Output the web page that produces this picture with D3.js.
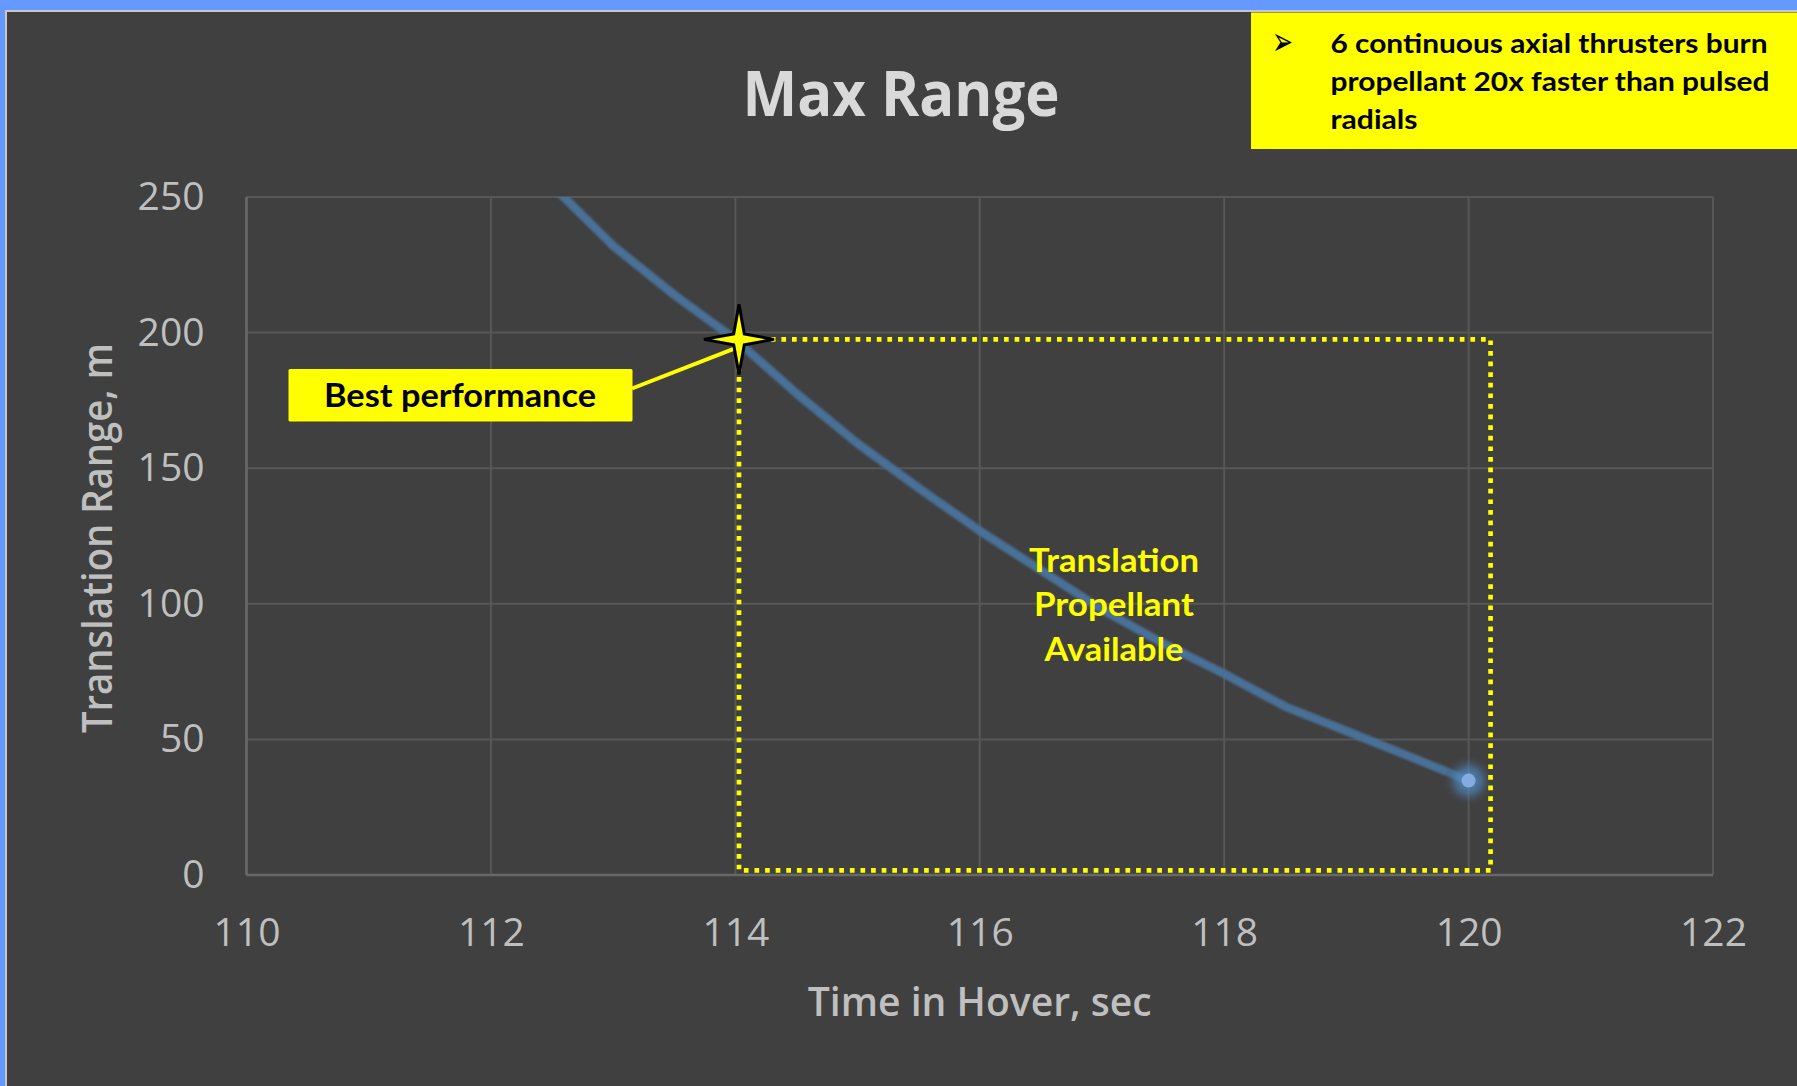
<!DOCTYPE html>
<html><head><meta charset="utf-8">
<script src="https://cdn.jsdelivr.net/npm/d3@7"></script>
<style>html,body{margin:0;padding:0;background:#404040;overflow:hidden}</style>
</head><body><svg id="c" width="1797" height="1086"></svg>
<script>
// ---- data ----
const timeSec = [112.5, 113.0, 113.5, 114.0, 114.5, 115.0, 115.5, 116.0, 116.5, 117.0, 117.5, 118.0, 118.5, 119.0, 119.5, 120.0];
const rangeM  = [254.3, 232.0, 213.9, 197.5, 177.6, 159.1, 142.7, 126.9, 112.4,  97.9,  85.4,  74.2,  62.1,  53.1,  44.0,  34.8];
const xTickValues = [110, 112, 114, 116, 118, 120, 122];
const yTickValues = [0, 50, 100, 150, 200, 250];
const chartTitle = "Max Range";
const xTitle = "Time in Hover, sec";
const yTitle = "Translation Range, m";
const noteLines = ["6 continuous axial thrusters burn", "propellant 20x faster than pulsed", "radials"];
const bestLabel = "Best performance";
const availLines = ["Translation", "Propellant", "Available"];
const bestTime = 114.03, bestRange = 197.5;
const boxTime = 120.18, boxRange = 1.7;

// ---- drawing ----
const svg = d3.select("#c");
const W = 1797, H = 1086;
const x = d3.scaleLinear().domain([110, 122]).range([246.5, 1713]);
const y = d3.scaleLinear().domain([0, 250]).range([875, 197]);

const defs = svg.append("defs");
defs.append("clipPath").attr("id", "plotclip").append("rect")
  .attr("x", x(110)).attr("y", y(250)).attr("width", x(122) - x(110)).attr("height", y(0) - y(250));
const soft = defs.append("filter").attr("id", "soft").attr("x", "-5%").attr("y", "-5%").attr("width", "110%").attr("height", "110%");
soft.append("feGaussianBlur").attr("stdDeviation", 0.9);
const glow = defs.append("radialGradient").attr("id", "glow");
glow.append("stop").attr("offset", "0%").attr("stop-color", "#5b9bd5").attr("stop-opacity", 0.9);
glow.append("stop").attr("offset", "50%").attr("stop-color", "#4f86bf").attr("stop-opacity", 0.55);
glow.append("stop").attr("offset", "100%").attr("stop-color", "#404040").attr("stop-opacity", 0);

function fit(sel, w) { sel.attr("textLength", w).attr("lengthAdjust", "spacingAndGlyphs"); return sel; }

// frame
svg.append("rect").attr("x", 0).attr("y", 0).attr("width", W).attr("height", H).attr("fill", "#6699ff");
svg.append("rect").attr("x", 5).attr("y", 10).attr("width", W).attr("height", H).attr("fill", "#c8c8c8");
svg.append("rect").attr("x", 7).attr("y", 12).attr("width", W).attr("height", H).attr("fill", "#404040");

// gridlines
const grid = svg.append("g");
grid.selectAll("line.v").data(xTickValues).join("line")
  .attr("x1", d => x(d)).attr("x2", d => x(d)).attr("y1", y(0)).attr("y2", y(250))
  .attr("stroke", "#575757").attr("stroke-width", 2);
grid.selectAll("line.h").data(yTickValues).join("line")
  .attr("x1", x(110)).attr("x2", x(122)).attr("y1", d => y(d)).attr("y2", d => y(d))
  .attr("stroke", "#575757").attr("stroke-width", 2);
// axis lines
svg.append("line").attr("x1", x(110)).attr("x2", x(110)).attr("y1", y(250)).attr("y2", y(0)).attr("stroke", "#686868").attr("stroke-width", 2.5);
svg.append("line").attr("x1", x(110)).attr("x2", x(122)).attr("y1", y(0)).attr("y2", y(0)).attr("stroke", "#686868").attr("stroke-width", 2.5);

// axes
const yAxis = svg.append("g").attr("transform", `translate(${x(110)},0)`)
  .call(d3.axisLeft(y).tickValues(yTickValues).tickSize(0).tickPadding(42).tickFormat(d3.format("d")));
const xAxis = svg.append("g").attr("transform", `translate(0,${y(0)})`)
  .call(d3.axisBottom(x).tickValues(xTickValues).tickSize(0).tickPadding(43).tickFormat(d3.format("d")));
[yAxis, xAxis].forEach(a => {
  a.select(".domain").remove();
  a.selectAll("text").attr("fill", "#bfbfbf").style("font-family", "'Open Sans', sans-serif").style("font-size", "39px");
});

// title
fit(svg.append("text").attr("x", 901).attr("y", 116).attr("text-anchor", "middle")
  .attr("fill", "#d9d9d9").style("font-family", "'Open Sans', sans-serif").style("font-weight", 700).style("font-size", "62px")
  .text(chartTitle), 317);

// axis titles
fit(svg.append("text").attr("x", (x(110) + x(122)) / 2).attr("y", 1016).attr("text-anchor", "middle")
  .attr("fill", "#bfbfbf").style("font-family", "'Open Sans', sans-serif").style("font-weight", 600).style("font-size", "40px")
  .text(xTitle), 344);
fit(svg.append("text").attr("transform", "translate(112,538) rotate(-90)").attr("text-anchor", "middle")
  .attr("fill", "#bfbfbf").style("font-family", "'Open Sans', sans-serif").style("font-weight", 600).style("font-size", "41px")
  .text(yTitle), 390);

// series
const line = d3.line().x((d, i) => x(timeSec[i])).y(d => y(d));
svg.append("g").attr("clip-path", "url(#plotclip)").append("path")
  .attr("d", line(rangeM)).attr("fill", "none").attr("stroke", "#4a6f97").attr("stroke-width", 8.5)
  .attr("stroke-linejoin", "round").attr("stroke-linecap", "round").attr("filter", "url(#soft)");
const lastI = timeSec.length - 1;
svg.append("circle").attr("cx", x(timeSec[lastI])).attr("cy", y(rangeM[lastI])).attr("r", 26).attr("fill", "url(#glow)");
svg.append("circle").attr("cx", x(timeSec[lastI])).attr("cy", y(rangeM[lastI])).attr("r", 7).attr("fill", "#83ade0");

// dotted region
svg.append("rect").attr("x", x(bestTime)).attr("y", y(bestRange))
  .attr("width", x(boxTime) - x(bestTime)).attr("height", y(boxRange) - y(bestRange))
  .attr("fill", "none").attr("stroke", "#ffff00").attr("stroke-width", 4.7).attr("stroke-dasharray", "4.7,5.9");

// Translation Propellant Available
const availW = [170, 160, 139];
availLines.forEach((t, i) => {
  fit(svg.append("text").attr("x", 1114).attr("y", 571.5 + i * 44.5).attr("text-anchor", "middle")
    .attr("fill", "#ffff00").style("font-family", "Lato, sans-serif").style("font-weight", 700).style("font-size", "32px")
    .text(t), availW[i]);
});

// Best performance callout
svg.append("line").attr("x1", 632).attr("y1", 388.5).attr("x2", x(bestTime) - 4).attr("y2", y(bestRange) + 9)
  .attr("stroke", "#ffff00").attr("stroke-width", 4);
svg.append("rect").attr("x", 288.5).attr("y", 369).attr("width", 344).attr("height", 52.5).attr("rx", 1.5).attr("fill", "#ffff00");
fit(svg.append("text").attr("x", 460).attr("y", 406.5).attr("text-anchor", "middle")
  .attr("fill", "#000").style("font-family", "Lato, sans-serif").style("font-weight", 700).style("font-size", "33px")
  .text(bestLabel), 272);

// star
const cx = x(bestTime), cy = y(bestRange);
const starPts = d3.range(8).map(k => {
  const a = k * Math.PI / 4 - Math.PI / 2, r = k % 2 === 0 ? 35 : 7.5;
  return [cx + r * Math.cos(a), cy + r * Math.sin(a)];
});
svg.append("path").attr("d", d3.line()(starPts) + "Z").attr("fill", "#ffff00").attr("stroke", "#000")
  .attr("stroke-width", 3).attr("stroke-linejoin", "miter");

// note box top right
svg.append("rect").attr("x", 1251).attr("y", 12.5).attr("width", W - 1251).attr("height", 136.5).attr("fill", "#ffff00");
fit(svg.append("text").attr("x", 1272).attr("y", 55).attr("fill", "#000")
  .style("font-family", "'DejaVu Sans', sans-serif").style("font-size", "40px").text("\u27A2"), 21);
const noteW = [437, 439, 87];
noteLines.forEach((t, i) => {
  fit(svg.append("text").attr("x", 1330.5).attr("y", 53 + i * 38).attr("fill", "#000")
    .style("font-family", "Lato, sans-serif").style("font-weight", 700).style("font-size", "27px")
    .text(t), noteW[i]);
});
</script></body></html>
